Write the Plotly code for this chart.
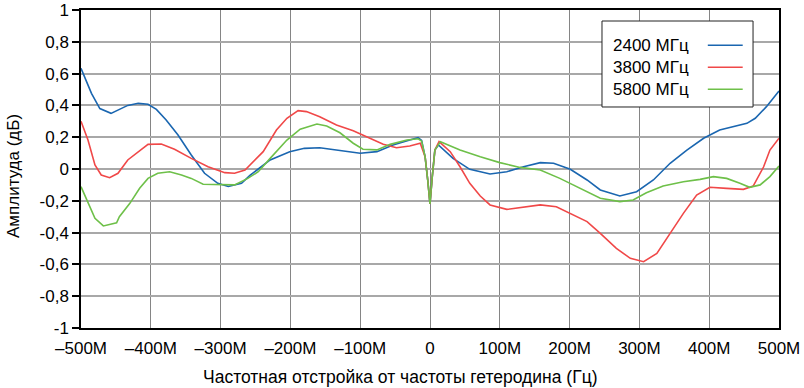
import plotly.graph_objects as go

# ---- data (offset in MHz, amplitude in dB) ----
x_2400 = [-500, -485, -473, -457, -433, -418, -404, -392, -378, -361, -342, -323, -304, -289, -270, -258, -246,
          -229, -201, -180, -158, -129, -100, -76, -53, -29, -17, -12, -7, -3, 0, 3, 7, 12, 20, 33, 57, 86, 110,
          134, 158, 177, 201, 225, 244, 272, 296, 320, 344, 368, 392, 415, 454, 466, 482, 500]
y_2400 = [0.633, 0.476, 0.38, 0.35, 0.40, 0.413, 0.407, 0.375, 0.308, 0.214, 0.088, -0.027, -0.09, -0.11, -0.09,
          -0.04, 0.0, 0.057, 0.109, 0.13, 0.134, 0.115, 0.099, 0.109, 0.151, 0.182, 0.197, 0.18, 0.077, -0.08,
          -0.22, -0.06, 0.12, 0.151, 0.12, 0.067, -0.002, -0.031, -0.017, 0.014, 0.04, 0.036, -0.002, -0.069,
          -0.132, -0.17, -0.143, -0.069, 0.036, 0.119, 0.193, 0.245, 0.287, 0.319, 0.392, 0.49]

x_3800 = [-500, -490, -480, -471, -459, -447, -433, -418, -404, -385, -366, -342, -318, -294, -280, -265, -258,
          -246, -239, -220, -205, -189, -177, -158, -134, -110, -91, -67, -48, -29, -14, -7, -3, 0, 3, 7, 13, 29,
          43, 57, 72, 86, 110, 134, 158, 181, 201, 225, 244, 267, 287, 306, 325, 344, 363, 382, 401, 425, 449,
          463, 478, 487, 500]
y_3800 = [0.30, 0.182, 0.025, -0.038, -0.055, -0.027, 0.057, 0.109, 0.155, 0.157, 0.124, 0.067, 0.014, -0.023,
          -0.027, -0.006, 0.025, 0.077, 0.109, 0.245, 0.319, 0.367, 0.361, 0.329, 0.277, 0.241, 0.203, 0.155,
          0.134, 0.145, 0.162, 0.077, -0.08, -0.22, -0.06, 0.12, 0.172, 0.109, 0.014, -0.09, -0.17, -0.226,
          -0.254, -0.241, -0.226, -0.237, -0.279, -0.331, -0.405, -0.499, -0.562, -0.583, -0.531, -0.405,
          -0.279, -0.164, -0.115, -0.122, -0.128, -0.107, 0.014, 0.119, 0.193]

x_5800 = [-500, -490, -480, -468, -449, -445, -430, -416, -404, -390, -373, -356, -342, -325, -304, -280, -261,
          -246, -229, -205, -186, -162, -148, -129, -110, -96, -76, -57, -33, -17, -12, -7, -3, 0, 3, 7, 15, 43,
          72, 100, 129, 158, 186, 215, 244, 272, 291, 310, 334, 363, 387, 406, 425, 444, 458, 473, 487, 500]
y_5800 = [-0.111, -0.205, -0.31, -0.358, -0.338, -0.30, -0.216, -0.121, -0.059, -0.027, -0.017, -0.038, -0.059,
          -0.096, -0.10, -0.10, -0.059, -0.017, 0.067, 0.182, 0.25, 0.283, 0.27, 0.228, 0.162, 0.124, 0.12,
          0.155, 0.182, 0.19, 0.175, 0.077, -0.08, -0.22, -0.06, 0.12, 0.172, 0.119, 0.077, 0.04, 0.01, -0.006,
          -0.059, -0.121, -0.184, -0.205, -0.195, -0.149, -0.107, -0.08, -0.065, -0.048, -0.059, -0.09, -0.115,
          -0.10, -0.048, 0.019]

series_names = ["2400 МГц", "3800 МГц", "5800 МГц"]
series_colors = ["#1a66b0", "#f04848", "#6ec049"]

x_tickvals = [-500, -400, -300, -200, -100, 0, 100, 200, 300, 400, 500]
x_ticktext = ["–500M", "–400M", "–300M", "–200M", "–100M", "0", "100M", "200M", "300M", "400M", "500M"]
y_tickvals = [-1, -0.8, -0.6, -0.4, -0.2, 0, 0.2, 0.4, 0.6, 0.8, 1]
y_ticktext = ["-1", "-0,8", "-0,6", "-0,4", "-0,2", "0", "0,2", "0,4", "0,6", "0,8", "1"]

x_title = "Частотная отстройка от частоты гетеродина (Гц)"
y_title = "Амплитуда (дБ)"

FONT = "Liberation Sans, Arial, sans-serif"

fig = go.Figure()
for xs, ys, name, col in zip([x_2400, x_3800, x_5800], [y_2400, y_3800, y_5800], series_names, series_colors):
    fig.add_trace(go.Scatter(x=xs, y=ys, mode="lines", name=name,
                             line=dict(color=col, width=1.6), showlegend=False))

# manual legend (text left, sample line right)
lx0, lx1, ly0, ly1 = 0.7464, 0.9628, 0.695, 0.9654
fig.add_shape(type="rect", xref="paper", yref="paper", x0=lx0, x1=lx1, y0=ly0, y1=ly1,
              line=dict(color="#222222", width=1), fillcolor="white", layer="above")
row_y = [0.889, 0.820, 0.751]
for name, col, ry in zip(series_names, series_colors, row_y):
    fig.add_annotation(xref="paper", yref="paper", x=0.7595, y=ry, text=name, showarrow=False,
                       xanchor="left", yanchor="middle", font=dict(family=FONT, size=17, color="black"))
    fig.add_shape(type="line", xref="paper", yref="paper", x0=0.898, x1=0.948, y0=ry, y1=ry,
                  line=dict(color=col, width=1.6), layer="above")

# axis titles
fig.add_annotation(xref="paper", yref="paper", x=0.458, y=-0.154, text=x_title, showarrow=False,
                   xanchor="center", yanchor="middle", font=dict(family=FONT, size=17.5, color="black"))
fig.add_annotation(xref="paper", yref="paper", x=-0.096, y=0.478, text=y_title, showarrow=False,
                   textangle=-90, xanchor="center", yanchor="middle",
                   font=dict(family=FONT, size=17, color="black"))

fig.update_layout(
    width=804, height=388,
    margin=dict(l=81, r=25, t=10, b=60),
    paper_bgcolor="white", plot_bgcolor="white",
    font=dict(family=FONT, size=17, color="black"),
    showlegend=False,
)
fig.update_xaxes(range=[-500, 500], tickvals=x_tickvals, ticktext=x_ticktext, automargin=False,
                 showgrid=True, gridcolor="#858585", gridwidth=1, zeroline=False,
                 showline=True, linecolor="black", linewidth=1.5, mirror=True,
                 ticks="", ticklabelstandoff=4)
fig.update_yaxes(range=[-1, 1], tickvals=y_tickvals, ticktext=y_ticktext, automargin=False,
                 showgrid=True, gridcolor="#a8a8a8", gridwidth=2, zeroline=False,
                 showline=True, linecolor="black", linewidth=1.5, mirror=True,
                 ticks="outside", ticklen=7, tickcolor="black", tickwidth=1.5)

fig.write_html("out.html", config={"displayModeBar": False},
               post_script="document.body.style.margin='0';document.body.style.overflow='hidden';")
